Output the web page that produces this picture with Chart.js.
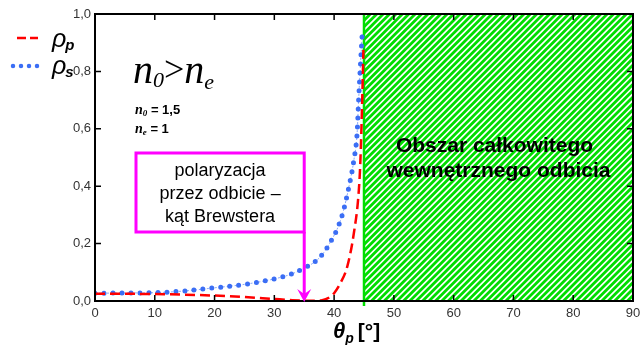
<!DOCTYPE html>
<html>
<head>
<meta charset="utf-8">
<script src="https://cdn.jsdelivr.net/npm/chart.js@4/dist/chart.umd.min.js"></script>
<style>
  html, body { margin: 0; padding: 0; background: #fff; }
  #wrap { width: 641px; height: 345px; }
</style>
</head>
<body>
<div id="wrap"><canvas id="chart"></canvas></div>
<script>
// rho_p (red dashed)
const thetaP = [0, 5, 10, 15, 20, 25, 30, 33, 36, 38, 39.4, 40, 41, 42.2, 43.3, 44.1, 44.4, 44.7, 44.9];
const rhoP   = [0.025, 0.025, 0.024, 0.022, 0.019, 0.014, 0.007, 0.003, 0.001, 0.003, 0.015, 0.027, 0.06, 0.12, 0.236, 0.376, 0.49, 0.70, 0.875];

// rho_s (blue dotted)
const thetaS = [0, 5, 10, 15, 20, 25, 30, 33, 35, 37, 38.5, 39.5, 40.5, 41.5, 42.5, 43.3, 43.85, 44.1, 44.4, 44.7];
const rhoS   = [0.027, 0.028, 0.029, 0.035, 0.046, 0.058, 0.077, 0.095, 0.115, 0.14, 0.175, 0.21, 0.25, 0.31, 0.40, 0.49, 0.585, 0.70, 0.82, 0.93];

const xTicks = [0, 10, 20, 30, 40, 50, 60, 70, 80, 90];
const yTicks = [0, 0.2, 0.4, 0.6, 0.8, 1.0];
const criticalAngle = 45;
const brewsterAngle = 35;

const SANS = '"Liberation Sans", Arial, sans-serif';
const SERIF = '"Liberation Serif", "Times New Roman", serif';

function toPoints(xs, ys) {
    return xs.map((x, i) => ({ x: x, y: ys[i] }));
}

// text helper: draws a run of pieces left to right
function drawRuns(ctx, x, y, runs) {
    runs.forEach(r => {
        ctx.font = r.font;
        ctx.fillText(r.text, x, y + (r.dy || 0));
        x += ctx.measureText(r.text).width + (r.gap || 0);
    });
}

const decor = {
    id: 'decor',
    beforeDatasetsDraw(chart) {
        const ctx = chart.ctx;
        const a = chart.chartArea;
        const xs = chart.scales.x;
        const x0 = xs.getPixelForValue(criticalAngle);

        // hatched region of total internal reflection
        ctx.save();
        ctx.beginPath();
        ctx.rect(x0, a.top, a.right - x0, a.bottom - a.top);
        ctx.clip();
        ctx.strokeStyle = '#00dd00';
        ctx.lineWidth = 2.8;
        const h = a.bottom - a.top;
        for (let px = x0 - h; px < a.right + 10; px += 6.4) {
            ctx.beginPath();
            ctx.moveTo(px, a.bottom);
            ctx.lineTo(px + h, a.top);
            ctx.stroke();
        }
        ctx.restore();

        ctx.save();
        ctx.strokeStyle = '#00dd00';
        ctx.lineWidth = 2.5;
        ctx.beginPath();
        ctx.moveTo(x0, a.top);
        ctx.lineTo(x0, a.bottom + 5);
        ctx.stroke();
        ctx.restore();
    },
    afterDatasetsDraw(chart) {
        const ctx = chart.ctx;
        const a = chart.chartArea;
        const xs = chart.scales.x;
        const ys = chart.scales.y;

        ctx.save();
        // frame
        ctx.strokeStyle = '#000';
        ctx.lineWidth = 2;
        ctx.strokeRect(a.left, a.top, a.right - a.left, a.bottom - a.top);
        // inward ticks
        ctx.lineWidth = 1.5;
        ctx.beginPath();
        xTicks.forEach(v => {
            const px = xs.getPixelForValue(v);
            ctx.moveTo(px, a.bottom); ctx.lineTo(px, a.bottom - 6);
            ctx.moveTo(px, a.top); ctx.lineTo(px, a.top + 6);
        });
        yTicks.forEach(v => {
            const py = ys.getPixelForValue(v);
            ctx.moveTo(a.left, py); ctx.lineTo(a.left + 6, py);
            ctx.moveTo(a.right, py); ctx.lineTo(a.right - 6, py);
        });
        ctx.stroke();

        // text in hatched area
        const xc = (xs.getPixelForValue(criticalAngle) + a.right) / 2;
        ctx.fillStyle = '#000';
        ctx.textAlign = 'center';
        ctx.textBaseline = 'alphabetic';
        ctx.font = 'bold 21px ' + SANS;
        ctx.fillText('Obszar całkowitego', xc - 4, 152);
        ctx.fillText('wewnętrznego odbicia', xc, 177);

        // Brewster box + arrow
        const bx = xs.getPixelForValue(brewsterAngle);
        ctx.strokeStyle = '#ff00ff';
        ctx.fillStyle = '#ff00ff';
        ctx.lineWidth = 3;
        ctx.strokeRect(136, 153, bx - 136, 79);
        ctx.beginPath();
        ctx.moveTo(bx, 232);
        ctx.lineTo(bx, a.bottom - 6);
        ctx.stroke();
        ctx.beginPath();
        ctx.moveTo(bx, a.bottom + 1);
        ctx.lineTo(bx - 7, a.bottom - 12);
        ctx.lineTo(bx, a.bottom - 7);
        ctx.lineTo(bx + 7, a.bottom - 12);
        ctx.closePath();
        ctx.fill();

        ctx.fillStyle = '#000';
        ctx.font = '18px ' + SANS;
        const tc = (136 + bx) / 2;
        ctx.fillText('polaryzacja', tc, 176);
        ctx.fillText('przez odbicie –', tc, 199);
        ctx.fillText('kąt Brewstera', tc, 222);

        // n0 > ne
        ctx.textAlign = 'left';
        drawRuns(ctx, 133, 83, [
            { text: 'n', font: 'italic 40px ' + SERIF },
            { text: '0', font: 'italic 22px ' + SERIF, dy: 4 },
            { text: '>', font: '36px ' + SERIF, dy: -2 },
            { text: 'n', font: 'italic 40px ' + SERIF },
            { text: 'e', font: 'italic 22px ' + SERIF, dy: 6 }
        ]);
        drawRuns(ctx, 135, 114, [
            { text: 'n', font: 'italic bold 14px ' + SERIF },
            { text: '0', font: 'italic bold 9px ' + SERIF, dy: 2 },
            { text: ' = 1,5', font: 'bold 13px ' + SANS }
        ]);
        drawRuns(ctx, 135, 133, [
            { text: 'n', font: 'italic bold 14px ' + SERIF },
            { text: 'e', font: 'italic bold 9px ' + SERIF, dy: 2 },
            { text: ' = 1', font: 'bold 13px ' + SANS }
        ]);

        // legend
        ctx.strokeStyle = '#ff0000';
        ctx.lineWidth = 2.5;
        ctx.setLineDash([9, 4]);
        ctx.beginPath();
        ctx.moveTo(17, 38); ctx.lineTo(38, 38);
        ctx.stroke();
        ctx.strokeStyle = '#3b6ef5';
        ctx.lineWidth = 4.5;
        ctx.lineCap = 'round';
        ctx.setLineDash([0, 8]);
        ctx.beginPath();
        ctx.moveTo(13, 66); ctx.lineTo(38, 66);
        ctx.stroke();
        ctx.setLineDash([]);
        ctx.lineCap = 'butt';
        drawRuns(ctx, 52, 47, [
            { text: 'ρ', font: 'italic 25px ' + SANS, gap: -1 },
            { text: 'p', font: 'italic bold 15px ' + SANS, dy: 3 }
        ]);
        drawRuns(ctx, 52, 74, [
            { text: 'ρ', font: 'italic 25px ' + SANS, gap: -1 },
            { text: 's', font: 'italic bold 15px ' + SANS, dy: 3 }
        ]);

        // x axis title
        drawRuns(ctx, 333, 338, [
            { text: 'θ', font: 'italic bold 22px ' + SANS },
            { text: 'p', font: 'italic bold 14px ' + SANS, dy: 5, gap: 4 },
            { text: '[°]', font: 'bold 21px ' + SANS }
        ]);
        ctx.restore();
    }
};

new Chart(document.getElementById('chart'), {
    type: 'scatter',
    data: {
        datasets: [
            {
                label: 'ρp',
                data: toPoints(thetaP, rhoP),
                showLine: true,
                borderColor: '#ff0000',
                borderWidth: 2.5,
                borderDash: [10, 5],
                pointRadius: 0,
                cubicInterpolationMode: 'monotone'
            },
            {
                label: 'ρs',
                data: toPoints(thetaS, rhoS),
                showLine: true,
                borderColor: '#3b6ef5',
                borderWidth: 5,
                borderDash: [0, 9],
                borderCapStyle: 'round',
                pointRadius: 0,
                cubicInterpolationMode: 'monotone'
            },
            {
                label: 'ρs line',
                data: toPoints(thetaS, rhoS),
                showLine: true,
                borderColor: 'rgba(59,110,245,0.6)',
                borderWidth: 1,
                borderDash: [2, 2],
                pointRadius: 0,
                cubicInterpolationMode: 'monotone'
            }
        ]
    },
    options: {
        responsive: true,
        maintainAspectRatio: false,
        animation: false,
        layout: { padding: { top: 14, right: 8, left: 0, bottom: 0 } },
        plugins: {
            legend: { display: false },
            tooltip: { enabled: false }
        },
        scales: {
            x: {
                type: 'linear',
                min: 0,
                max: 90,
                afterBuildTicks: s => { s.ticks = xTicks.map(v => ({ value: v })); },
                ticks: { color: '#333', font: { family: SANS, size: 13 }, padding: 5, maxRotation: 0 },
                grid: { display: false, drawTicks: false, tickLength: 0 },
                border: { display: false },
                afterFit: s => { s.height = 44; s.paddingRight = 0; }
            },
            y: {
                min: 0,
                max: 1,
                afterBuildTicks: s => { s.ticks = yTicks.map(v => ({ value: v })); },
                ticks: {
                    color: '#333',
                    font: { family: SANS, size: 13 },
                    padding: 4,
                    callback: v => v.toFixed(1).replace('.', ',')
                },
                grid: { display: false, drawTicks: false, tickLength: 0 },
                border: { display: false },
                afterFit: s => { s.width = 95; }
            }
        }
    },
    plugins: [decor]
});
</script>
</body>
</html>
